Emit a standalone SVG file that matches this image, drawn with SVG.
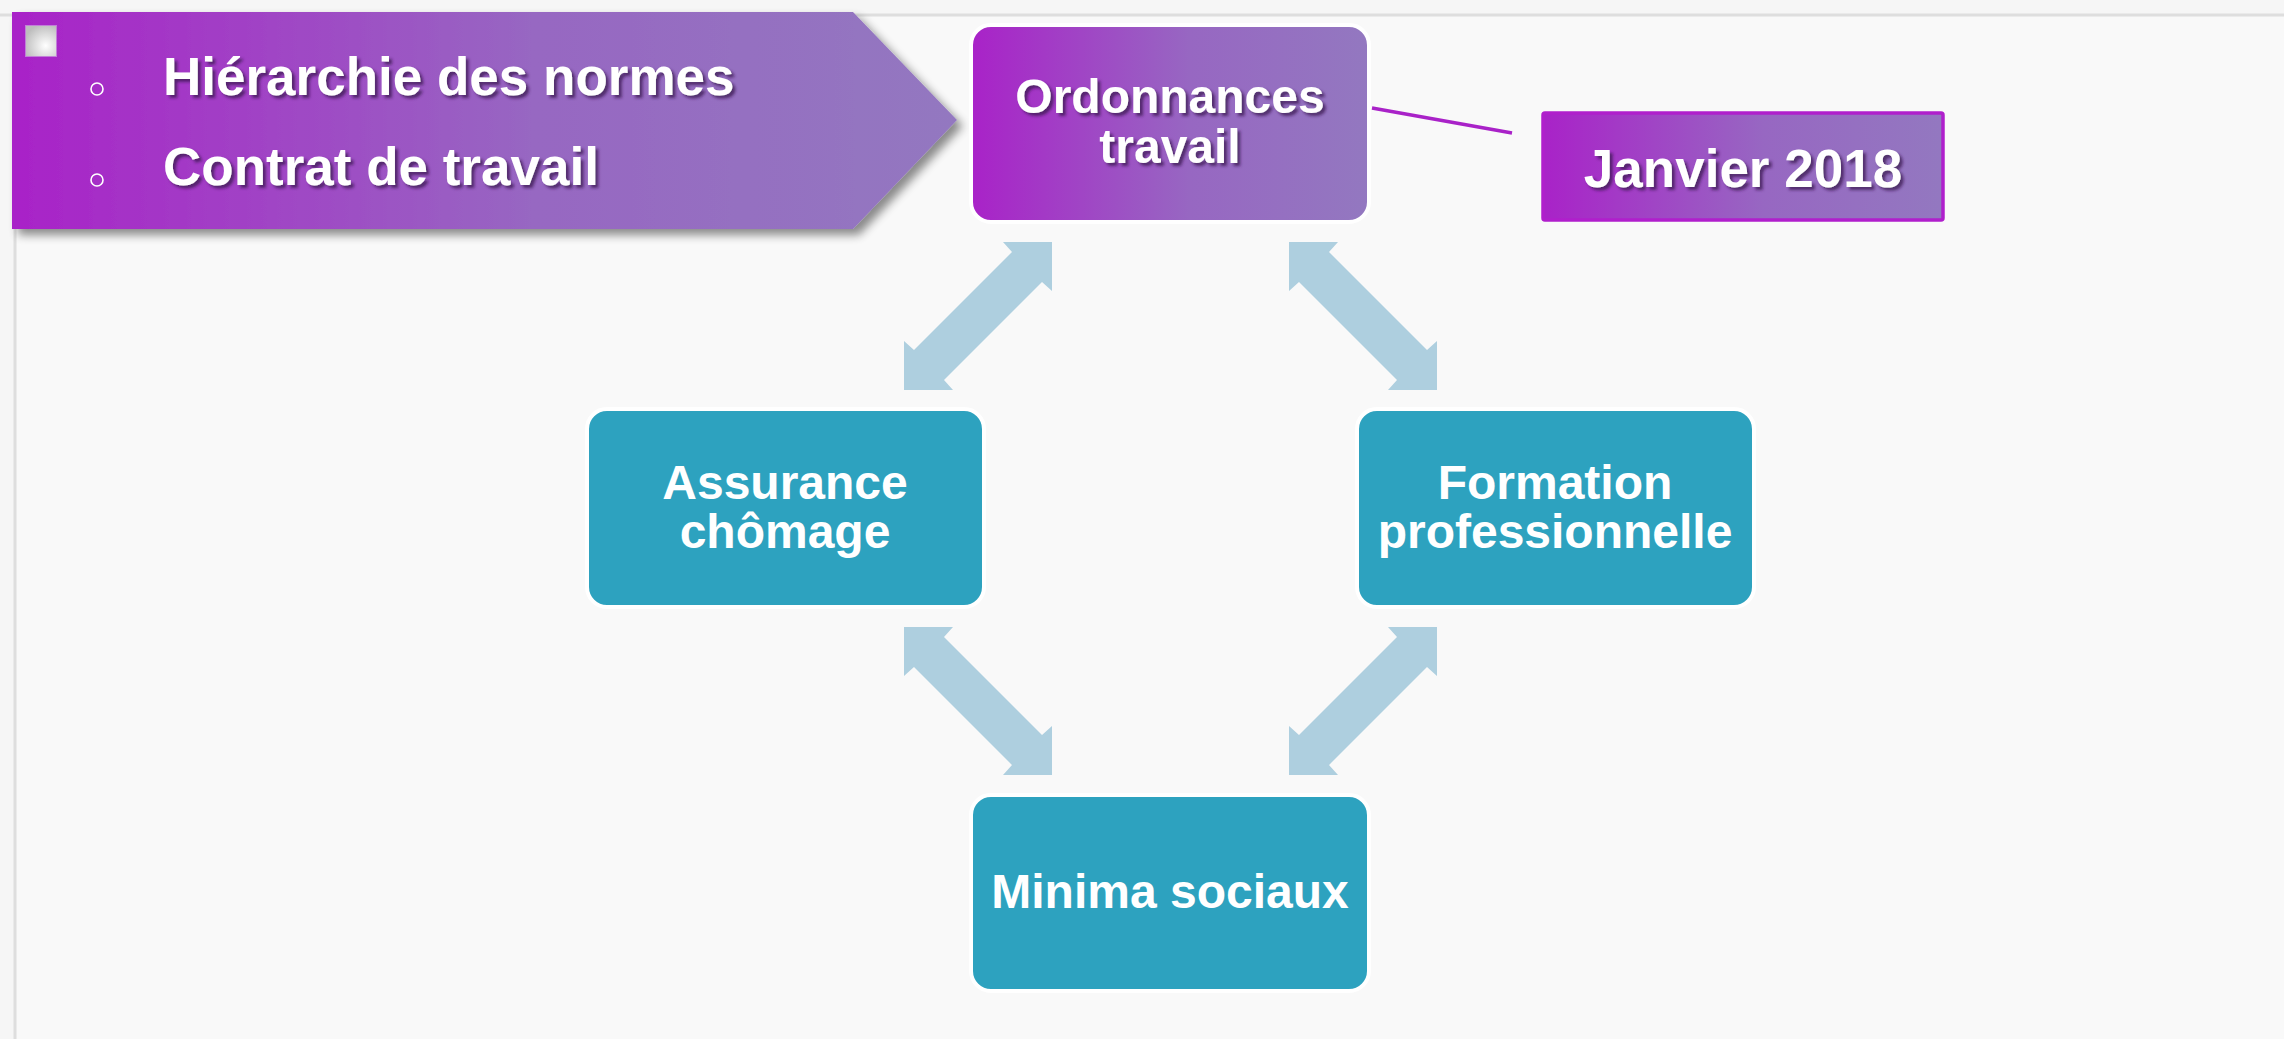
<svg xmlns="http://www.w3.org/2000/svg" width="2284" height="1039" viewBox="0 0 2284 1039">
  <defs>
    <linearGradient id="purple" x1="0" y1="0" x2="1" y2="0">
      <stop offset="0" stop-color="#a922c8"/>
      <stop offset="0.55" stop-color="#9767c2"/>
      <stop offset="1" stop-color="#9378c0"/>
    </linearGradient>
    <radialGradient id="sq" cx="0.65" cy="0.65" r="0.7">
      <stop offset="0" stop-color="#ffffff"/>
      <stop offset="1" stop-color="#bdbdbd"/>
    </radialGradient>
    <filter id="shadow" x="-10%" y="-10%" width="130%" height="130%">
      <feGaussianBlur in="SourceAlpha" stdDeviation="5"/>
      <feOffset dx="6" dy="6" result="b"/>
      <feComponentTransfer><feFuncA type="linear" slope="0.45"/></feComponentTransfer>
      <feMerge><feMergeNode/><feMergeNode in="SourceGraphic"/></feMerge>
    </filter>
    <filter id="tshadow" x="-10%" y="-30%" width="130%" height="160%">
      <feGaussianBlur in="SourceAlpha" stdDeviation="1.6"/>
      <feOffset dx="3" dy="3" result="b"/>
      <feFlood flood-color="#3a1850" flood-opacity="0.75"/>
      <feComposite in2="b" operator="in"/>
      <feMerge><feMergeNode/><feMergeNode in="SourceGraphic"/></feMerge>
    </filter>
    <polygon id="dblarrow" points="74,-74 74,-25 64,-34 -34,64 -25,74 -74,74 -74,25 -64,34 34,-64 25,-74"/>
    <style>
      .lbl { font-family: "Liberation Sans", Arial, sans-serif; font-weight: bold; fill: #ffffff; text-anchor: middle; }
      .big { font-size: 53px; }
      .mid { font-size: 48px; }
      .teal { fill: #2da2bf; stroke: #ffffff; stroke-width: 4; }
      .pnode { fill: url(#purple); stroke: #ffffff; stroke-width: 4; }
      .arrow { fill: #aecfdf; }
    </style>
  </defs>

  <rect x="0" y="0" width="2284" height="1039" fill="#f6f6f6"/>
  <rect x="15" y="15" width="2269" height="1024" fill="#f9f9f9"/>
  <line x1="0" y1="15" x2="2284" y2="15" stroke="#dedede" stroke-width="3"/>
  <line x1="15" y1="15" x2="15" y2="1039" stroke="#dedede" stroke-width="3"/>

  <g id="banner">
    <polygon points="12,12 853,12 957,120 853,229 12,229" fill="url(#purple)" filter="url(#shadow)"/>
    <rect x="25.5" y="25.5" width="31" height="31" fill="url(#sq)" stroke="#c27fd8" stroke-width="1"/>
    <circle cx="97" cy="89" r="6" fill="none" stroke="#ffffff" stroke-width="1.6"/>
    <circle cx="97" cy="180" r="6" fill="none" stroke="#ffffff" stroke-width="1.6"/>
    <g filter="url(#tshadow)">
      <text x="163" y="95" class="lbl big" style="text-anchor:start">Hiérarchie des normes</text>
      <text x="163" y="185" class="lbl big" style="text-anchor:start">Contrat de travail</text>
    </g>
  </g>

  <g id="connectors">
    <line x1="1372" y1="108" x2="1512" y2="133" stroke="#a922c8" stroke-width="3.5"/>
    <use href="#dblarrow" class="arrow" transform="translate(978,316)"/>
    <use href="#dblarrow" class="arrow" transform="translate(1363,316) scale(-1,1)"/>
    <use href="#dblarrow" class="arrow" transform="translate(978,701) scale(1,-1)"/>
    <use href="#dblarrow" class="arrow" transform="translate(1363,701) scale(-1,-1)"/>
  </g>

  <g id="ordonnances">
    <rect x="971" y="25" width="398" height="197" rx="20" ry="20" class="pnode"/>
    <g filter="url(#tshadow)">
      <text x="1170" y="113" class="lbl mid">Ordonnances</text>
      <text x="1170" y="163" class="lbl mid">travail</text>
    </g>
  </g>

  <g id="janvier">
    <rect x="1543" y="113" width="400" height="107" rx="2" fill="url(#purple)" stroke="#b01fcc" stroke-width="3.5"/>
    <text x="1743" y="187" class="lbl big" filter="url(#tshadow)">Janvier 2018</text>
  </g>

  <g id="assurance">
    <rect x="587" y="409" width="397" height="198" rx="20" ry="20" class="teal"/>
    <text x="785" y="499" class="lbl mid">Assurance</text>
    <text x="785" y="548" class="lbl mid">chômage</text>
  </g>

  <g id="formation">
    <rect x="1357" y="409" width="397" height="198" rx="20" ry="20" class="teal"/>
    <text x="1555" y="499" class="lbl mid">Formation</text>
    <text x="1555" y="548" class="lbl mid">professionnelle</text>
  </g>

  <g id="minima">
    <rect x="971" y="795" width="398" height="196" rx="20" ry="20" class="teal"/>
    <text x="1170" y="908" class="lbl mid">Minima sociaux</text>
  </g>
</svg>
